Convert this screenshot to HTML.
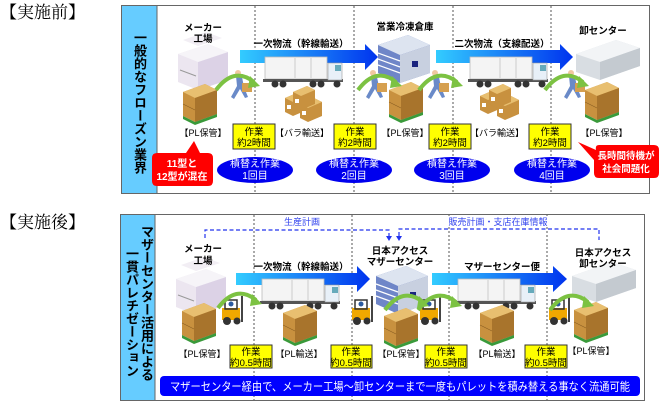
<!DOCTYPE html>
<html><head><meta charset="utf-8"><style>
body{margin:0;width:662px;height:409px;background:#fff;overflow:hidden;position:relative;font-family:"Liberation Sans","Noto Sans CJK JP",sans-serif}
svg{position:absolute;left:0;top:0}
.v{position:absolute;writing-mode:vertical-rl;font-weight:bold;color:#000;font-family:"Liberation Sans","Noto Sans CJK JP",sans-serif;font-size:13px;line-height:14px;white-space:nowrap}
</style></head><body>
<svg width="662" height="409" viewBox="0 0 662 409" font-family="Liberation Sans, Noto Sans CJK JP, sans-serif">
<defs>
<linearGradient id="ar" x1="0" x2="1"><stop offset="0" stop-color="#33ccff"/><stop offset="1" stop-color="#0033ee"/></linearGradient>
<g id="pal">
<polygon points="0,8 22,0 34,6 34,30 12,38 0,32" fill="#c8913f"/>
<polygon points="0,8 22,0 34,6 12,14" fill="#e8bf70"/>
<polygon points="12,14 34,6 34,30 12,38" fill="#a8742c"/>
<line x1="0" y1="20" x2="12" y2="26" stroke="#8a5e22" stroke-width="0.6"/>
<polygon points="0,32 12,38 34,30 34,33 12,41 0,35" fill="#3a9a3a"/>
</g>
<g id="box">
<polygon points="0,6 14,0 22,4 22,18 8,24 0,20" fill="#c8913f"/>
<polygon points="0,6 14,0 22,4 8,10" fill="#e8bf70"/>
<rect x="2" y="13" width="4" height="4" fill="#fff"/>
</g>
<g id="truck">
<rect x="0" y="0" width="62" height="22" fill="#f4f4f4" stroke="#bbb" stroke-width="0.8"/>
<line x1="30" y1="1" x2="30" y2="21" stroke="#ccc"/><line x1="46" y1="1" x2="46" y2="21" stroke="#ccc"/>
<rect x="-2" y="22" width="80" height="3" fill="#555"/>
<rect x="63" y="6" width="14" height="17" fill="#e8f0f8" stroke="#999" stroke-width="0.6"/>
<rect x="70" y="8" width="6" height="6" fill="#6ab"/>
<circle cx="10" cy="27" r="3.5" fill="#333"/><circle cx="18" cy="27" r="3.5" fill="#333"/><circle cx="48" cy="27" r="3.5" fill="#333"/><circle cx="56" cy="27" r="3.5" fill="#333"/><circle cx="72" cy="27" r="3.5" fill="#333"/>
</g>
<g id="fact">
<polygon points="0,14 30,4 50,12 50,40 20,50 0,42" fill="#ece6f0"/>
<polygon points="20,22 50,12 50,40 20,50" fill="#dcd2e6"/>
<polygon points="0,14 30,4 50,12 20,22" fill="#f6f4f8"/>
<polygon points="5,0 28,-8 44,-2 20,6" fill="#f2eef4"/>
<line x1="2" y1="30" x2="18" y2="36" stroke="#999"/>
</g>
<g id="wh">
<polygon points="0,10 30,0 52,10 52,38 22,48 0,38" fill="#6f86c8"/>
<polygon points="0,10 30,0 52,10 22,20" fill="#dde4f0"/>
<polygon points="22,20 52,10 52,38 22,48" fill="#c8d0e0"/>
<g stroke="#fff" stroke-width="1.2"><line x1="0" y1="18" x2="22" y2="26"/><line x1="0" y1="24" x2="22" y2="32"/><line x1="0" y1="30" x2="22" y2="38"/></g>
<rect x="34" y="26" width="6" height="6" fill="#1a237e"/>
</g>
<g id="cen">
<polygon points="0,18 40,4 64,12 64,30 24,44 0,36" fill="#d8dde2"/>
<polygon points="0,18 40,4 64,12 24,26" fill="#f2f4f6"/>
<polygon points="24,26 64,12 64,30 24,44" fill="#c4cad0"/>
</g>
<g id="man">
<circle cx="6" cy="0" r="3" fill="#f0c8a0"/>
<path d="M4 3 L10 4 L12 14 L16 24 L13 25 L8 16 L2 26 L-1 24 L5 13 Z" fill="#6a8ac8"/>
<rect x="10" y="10" width="10" height="9" fill="#d6a050"/>
</g>
<g id="fork">
<rect x="0" y="8" width="18" height="12" fill="#f0a800"/>
<rect x="3" y="0" width="12" height="9" fill="none" stroke="#333" stroke-width="1.5"/>
<circle cx="9" cy="4" r="2.5" fill="#2a5aa0"/>
<line x1="20" y1="-4" x2="20" y2="22" stroke="#444" stroke-width="2"/>
<circle cx="5" cy="21" r="4" fill="#333"/><circle cx="15" cy="21" r="3.5" fill="#333"/>
</g>
<g id="garc"><path d="M0 18 Q18 -6 38 10" fill="none" stroke="#7cc242" stroke-width="4"/><polygon points="34,4 44,14 32,16" fill="#7cc242"/></g>
</defs>

<text x="0" y="18" font-size="17" font-family="Liberation Serif, Noto Serif CJK SC, serif">【実施前】</text>
<text x="0" y="228" font-size="17" font-family="Liberation Serif, Noto Serif CJK SC, serif">【実施後】</text>

<!-- top panel -->
<rect x="121.5" y="5.5" width="528" height="188" fill="#fff" stroke="#666"/>
<rect x="122" y="6" width="35" height="187" fill="#66ccff"/>
<line x1="157" y1="6" x2="157" y2="193" stroke="#666"/>
<g stroke="#555" stroke-dasharray="2,2"><line x1="255" y1="6" x2="255" y2="193"/><line x1="354" y1="6" x2="354" y2="193"/><line x1="453" y1="6" x2="453" y2="193"/><line x1="551" y1="6" x2="551" y2="193"/></g>

<polygon points="240,50 365,50 365,44 378,57 365,70 365,63 240,63" fill="url(#ar)"/>
<polygon points="436,50 560,50 560,44 573,57 560,70 560,63 436,63" fill="url(#ar)"/>

<use href="#fact" x="178" y="40"/>
<use href="#wh" x="378" y="35"/>
<use href="#cen" x="576" y="36"/>
<use href="#truck" x="265" y="57"/>
<use href="#truck" x="470" y="57"/>
<use href="#pal" x="183" y="84"/>
<use href="#pal" x="389" y="82"/>
<use href="#pal" x="585" y="82"/>
<use href="#box" x="285" y="92"/><use href="#box" x="300" y="98"/><use href="#box" x="293" y="86"/>
<use href="#box" x="480" y="90"/><use href="#box" x="497" y="96"/><use href="#box" x="489" y="84"/>
<use href="#man" x="232" y="73"/><use href="#man" x="367" y="73"/><use href="#man" x="429" y="73"/><use href="#man" x="565" y="73"/>
<use href="#garc" x="216" y="72"/><use href="#garc" x="358" y="72"/><use href="#garc" x="419" y="72"/><use href="#garc" x="545" y="72"/>

<g font-size="9.5" font-weight="bold" text-anchor="middle">
<text x="203" y="31">メーカー</text><text x="203" y="42">工場</text>
<text x="301" y="47">一次物流（幹線輸送）</text>
<text x="405" y="30">営業冷凍倉庫</text>
<text x="502" y="47">二次物流（支線配送）</text>
<text x="603" y="34">卸センター</text>
</g>
<g font-size="9" text-anchor="middle">
<text x="203" y="136">【PL保管】</text><text x="302" y="136">【バラ輸送】</text>
<text x="405" y="136">【PL保管】</text><text x="497" y="136">【バラ輸送】</text>
<text x="604" y="136">【PL保管】</text>
</g>
<g font-size="9.5" text-anchor="middle">
<rect x="233" y="124" width="42" height="25" fill="#ffff00" stroke="#333"/><text x="254" y="135">作業</text><text x="254" y="146">約2時間</text>
<rect x="334" y="124" width="42" height="25" fill="#ffff00" stroke="#333"/><text x="355" y="135">作業</text><text x="355" y="146">約2時間</text>
<rect x="429" y="124" width="42" height="25" fill="#ffff00" stroke="#333"/><text x="450" y="135">作業</text><text x="450" y="146">約2時間</text>
<rect x="529" y="124" width="42" height="25" fill="#ffff00" stroke="#333"/><text x="550" y="135">作業</text><text x="550" y="146">約2時間</text>
</g>
<g fill="#0000ee"><ellipse cx="255" cy="170" rx="38" ry="13"/><ellipse cx="354" cy="170" rx="38" ry="13"/><ellipse cx="452" cy="170" rx="38" ry="13"/><ellipse cx="552" cy="170" rx="38" ry="13"/></g>
<g fill="#fff" font-size="10" text-anchor="middle">
<text x="255" y="167">積替え作業</text><text x="255" y="179">1回目</text>
<text x="354" y="167">積替え作業</text><text x="354" y="179">2回目</text>
<text x="452" y="167">積替え作業</text><text x="452" y="179">3回目</text>
<text x="552" y="167">積替え作業</text><text x="552" y="179">4回目</text>
</g>
<path d="M157 153 L186 153 L194 141 L200 153 L208 153 Q213 153 213 158 L213 181 Q213 186 208 186 L157 186 Q152 186 152 181 L152 158 Q152 153 157 153 Z" fill="#ff0000"/>
<text x="182" y="167" fill="#fff" font-size="10" font-weight="bold" text-anchor="middle">11型と</text>
<text x="182" y="180" fill="#fff" font-size="10" font-weight="bold" text-anchor="middle">12型が混在</text>
<path d="M599 145 L654 145 Q659 145 659 150 L659 173 Q659 178 654 178 L599 178 Q594 178 594 173 L594 160 L578 142 L596 150 Q595 145 599 145 Z" fill="#ff0000"/>
<text x="626" y="159" fill="#fff" font-size="9.5" font-weight="bold" text-anchor="middle">長時間待機が</text>
<text x="626" y="172" fill="#fff" font-size="9.5" font-weight="bold" text-anchor="middle">社会問題化</text>

<!-- bottom panel -->
<rect x="120.5" y="214.5" width="524" height="186" fill="#fff" stroke="#666"/>
<rect x="121" y="215" width="34" height="185" fill="#66ccff"/>
<line x1="155" y1="215" x2="155" y2="400" stroke="#666"/>
<g stroke="#555" stroke-dasharray="2,2"><line x1="254" y1="215" x2="254" y2="400"/><line x1="352" y1="215" x2="352" y2="400"/><line x1="449" y1="215" x2="449" y2="400"/><line x1="547" y1="215" x2="547" y2="400"/></g>
<g fill="none" stroke="#2233ee" stroke-dasharray="4,2.5" stroke-width="1.2">
<path d="M205 238 L205 230 L389 230 L389 236"/>
<path d="M399 236 L399 229 L599 229 L599 240"/>
</g>
<polygon points="386,236 392,236 389,241" fill="#2233ee"/>
<polygon points="396,236 402,236 399,241" fill="#2233ee"/>
<rect x="281" y="216" width="42" height="11" fill="#fff"/>
<text x="302" y="225" font-size="9" fill="#3344ee" text-anchor="middle">生産計画</text>
<rect x="446" y="216" width="104" height="11" fill="#fff"/>
<text x="498" y="225" font-size="9" fill="#3344ee" text-anchor="middle">販売計画・支店在庫情報</text>

<polygon points="236,273 357,273 357,266 370,279 357,292 357,285 236,285" fill="url(#ar)"/>
<polygon points="432,273 553,273 553,266 567,279 553,292 553,285 432,285" fill="url(#ar)"/>
<use href="#fact" x="176" y="265"/>
<use href="#wh" x="376" y="266"/>
<use href="#cen" x="572" y="258"/>
<use href="#truck" x="262" y="279"/>
<use href="#truck" x="458" y="279"/>
<use href="#pal" x="182" y="303"/><use href="#pal" x="283" y="305"/><use href="#pal" x="384" y="308"/><use href="#pal" x="480" y="305"/><use href="#pal" x="574" y="302"/>
<use href="#fork" x="222" y="300"/><use href="#fork" x="352" y="300"/><use href="#fork" x="420" y="300"/><use href="#fork" x="549" y="300"/>
<use href="#garc" x="218" y="290"/><use href="#garc" x="385" y="292"/><use href="#garc" x="418" y="292"/><use href="#garc" x="550" y="292"/>
<g font-size="9.5" font-weight="bold" text-anchor="middle">
<text x="203" y="252">メーカー</text><text x="203" y="264">工場</text>
<text x="301" y="270">一次物流（幹線輸送）</text>
<text x="400" y="254">日本アクセス</text><text x="400" y="265">マザーセンター</text>
<text x="502" y="270">マザーセンター便</text>
<text x="603" y="256">日本アクセス</text><text x="603" y="267">卸センター</text>
</g>
<g font-size="9" text-anchor="middle">
<text x="202" y="357">【PL保管】</text><text x="299" y="357">【PL輸送】</text>
<text x="401" y="357">【PL保管】</text><text x="497" y="357">【PL輸送】</text>
<text x="591" y="354">【PL保管】</text>
</g>
<g font-size="9.5" text-anchor="middle">
<rect x="230" y="345" width="42" height="23" fill="#ffff00" stroke="#333"/><text x="251" y="355">作業</text><text x="251" y="366">約0.5時間</text>
<rect x="331" y="345" width="41" height="23" fill="#ffff00" stroke="#333"/><text x="351" y="355">作業</text><text x="351" y="366">約0.5時間</text>
<rect x="425" y="345" width="42" height="23" fill="#ffff00" stroke="#333"/><text x="446" y="355">作業</text><text x="446" y="366">約0.5時間</text>
<rect x="525" y="345" width="42" height="23" fill="#ffff00" stroke="#333"/><text x="546" y="355">作業</text><text x="546" y="366">約0.5時間</text>
</g>
<rect x="160" y="376" width="480" height="20" rx="4" fill="#0000ff"/>
<text x="170" y="390.5" fill="#fff" font-size="11.5" textLength="460" lengthAdjust="spacingAndGlyphs">マザーセンター経由で、メーカー工場～卸センターまで一度もパレットを積み替える事なく流通可能</text>
</svg>
<div class="v" style="left:132px;top:31px;letter-spacing:0px">一般的なフローズン業界</div>
<div class="v" style="left:139px;top:225px">マザーセンター活用による</div>
<div class="v" style="left:124px;top:247px">一貫パレチゼーション</div>
</body></html>
